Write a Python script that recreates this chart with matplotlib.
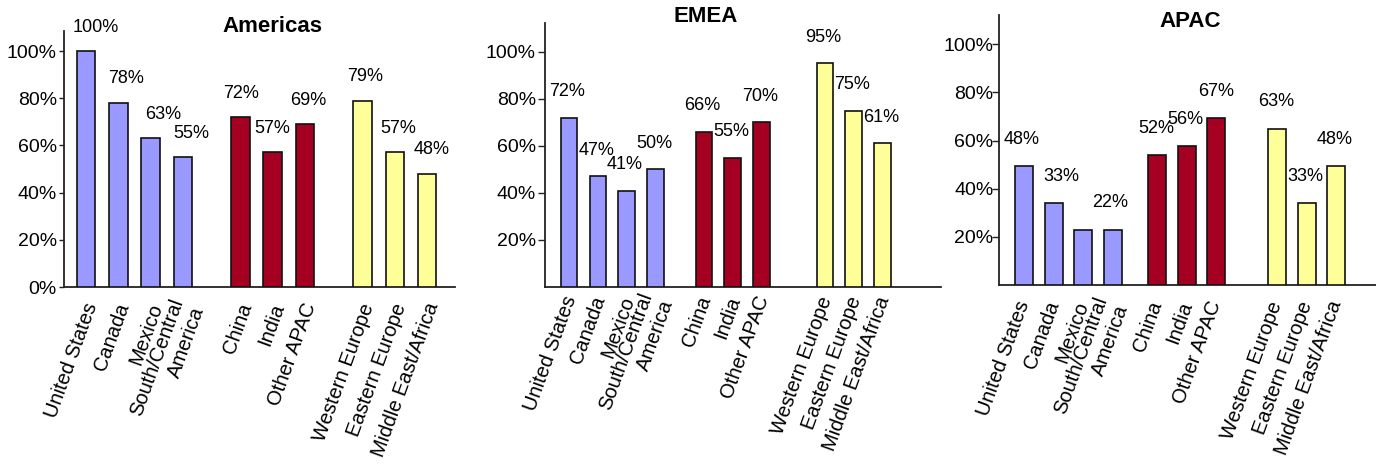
import matplotlib
matplotlib.use("Agg")
import matplotlib.pyplot as plt
from matplotlib.transforms import ScaledTranslation

plt.rcParams['font.family'] = ['Liberation Sans', 'DejaVu Sans']

# ---------------- data ----------------
categories = ["United States", "Canada", "Mexico", "South/Central\nAmerica",
              "China", "India", "Other APAC",
              "Western Europe", "Eastern Europe", "Middle East/Africa"]
groups = [0, 0, 0, 0, 1, 1, 1, 2, 2, 2]

americas_values = [100, 78, 63, 55, 72, 57, 69, 79, 57, 48]
americas_labels = ["100%", "78%", "63%", "55%", "72%", "57%", "69%", "79%", "57%", "48%"]

emea_values = [72, 47, 41, 50, 66, 55, 70, 95, 75, 61]
emea_labels = ["72%", "47%", "41%", "50%", "66%", "55%", "70%", "95%", "75%", "61%"]

apac_values = [49.4, 33.9, 23, 23, 54, 57.7, 69.4, 65, 34, 49.4]
apac_labels = ["48%", "33%", "", "22%", "52%", "56%", "67%", "63%", "33%", "48%"]

americas_yticks = [0, 20, 40, 60, 80, 100]
emea_yticks = [20, 40, 60, 80, 100]
apac_yticks = [20, 40, 60, 80, 100]

group_colors = ["#9999FF", "#A50021", "#FFFF99"]

# ---------------- layout ----------------
W, H = 1376, 465
fig = plt.figure(figsize=(W / 100, H / 100), dpi=100)


def make_panel(values, labels, yticks, title, box, c0, step, g1, g2, px_per_pct,
               label_dy, label_dx, tick_len, tick_pad, xlab_pad, xlab_dx,
               title_xy, bar_w):
    l, r, t, b = box
    ax = fig.add_axes([l / W, 1 - b / H, (r - l) / W, (b - t) / H])
    xs = [i + (g1 if g >= 1 else 0) + (g2 if g >= 2 else 0)
          for i, g in enumerate(groups)]
    cols = [group_colors[g] for g in groups]
    ax.bar(xs, values, width=bar_w, color=cols, edgecolor="#111111",
           linewidth=1.2, zorder=3)
    ax.set_xlim((l - c0) / step, (r - c0) / step)
    ax.set_ylim(0, (b - t) / px_per_pct)
    for x, v, lab, dx in zip(xs, values, labels, label_dx):
        if lab:
            ax.annotate(lab, (x, v), xytext=(dx * 0.72, label_dy * 0.72),
                        textcoords="offset points", ha="center", va="center",
                        fontsize=13, zorder=4)
    ax.set_yticks(yticks)
    ax.set_yticklabels([f"{v}%" for v in yticks])
    ax.tick_params(axis="y", direction="out", length=tick_len, width=1,
                   pad=tick_pad, labelsize=14, color="#222222")
    ax.set_xticks(xs)
    ax.set_xticklabels(categories, rotation=70, ha="right", va="center",
                       rotation_mode="anchor", multialignment="right",
                       fontsize=14.5)
    ax.tick_params(axis="x", length=0, pad=xlab_pad)
    shift = ScaledTranslation(xlab_dx / 100, 0, fig.dpi_scale_trans)
    for tl in ax.get_xticklabels():
        tl.set_transform(tl.get_transform() + shift)
    for s in ("top", "right"):
        ax.spines[s].set_visible(False)
    for s in ("left", "bottom"):
        ax.spines[s].set_linewidth(1.3)
        ax.spines[s].set_color("#222222")
    ax.patch.set_alpha(0)
    fig.text(title_xy[0] / W, 1 - title_xy[1] / H, title, ha="center",
             va="center", fontsize=16, fontweight="bold")
    return ax


make_panel(americas_values, americas_labels, americas_yticks, "Americas",
           box=(64, 455, 31, 287), c0=86, step=32.3, g1=0.78, g2=0.78,
           px_per_pct=2.36, label_dy=24,
           label_dx=[9.5, 8, 13, 8, 1, 0, 3, 3, 3.5, 5],
           tick_len=3.6, tick_pad=1.5, xlab_pad=12, xlab_dx=6,
           title_xy=(272, 27), bar_w=0.57)

make_panel(emea_values, emea_labels, emea_yticks, "EMEA",
           box=(545, 941, 23, 287), c0=569, step=28.8, g1=0.68, g2=1.2,
           px_per_pct=2.353, label_dy=26,
           label_dx=[-1.5] * 10,
           tick_len=5, tick_pad=1.5, xlab_pad=7, xlab_dx=2,
           title_xy=(705.7, 17), bar_w=0.57)

make_panel(apac_values, apac_labels, apac_yticks, "APAC",
           box=(999, 1378, 15, 285), c0=1024.3, step=29.5, g1=0.5, g2=1.07,
           px_per_pct=2.407, label_dy=26.7,
           label_dx=[-2.6, 8, 0, -3, -1, -1, 0, -1.3, -1.4, -1.5],
           tick_len=5, tick_pad=-1, xlab_pad=12, xlab_dx=0,
           title_xy=(1190, 21.7), bar_w=0.61)

fig.savefig("out.png", dpi=100)
